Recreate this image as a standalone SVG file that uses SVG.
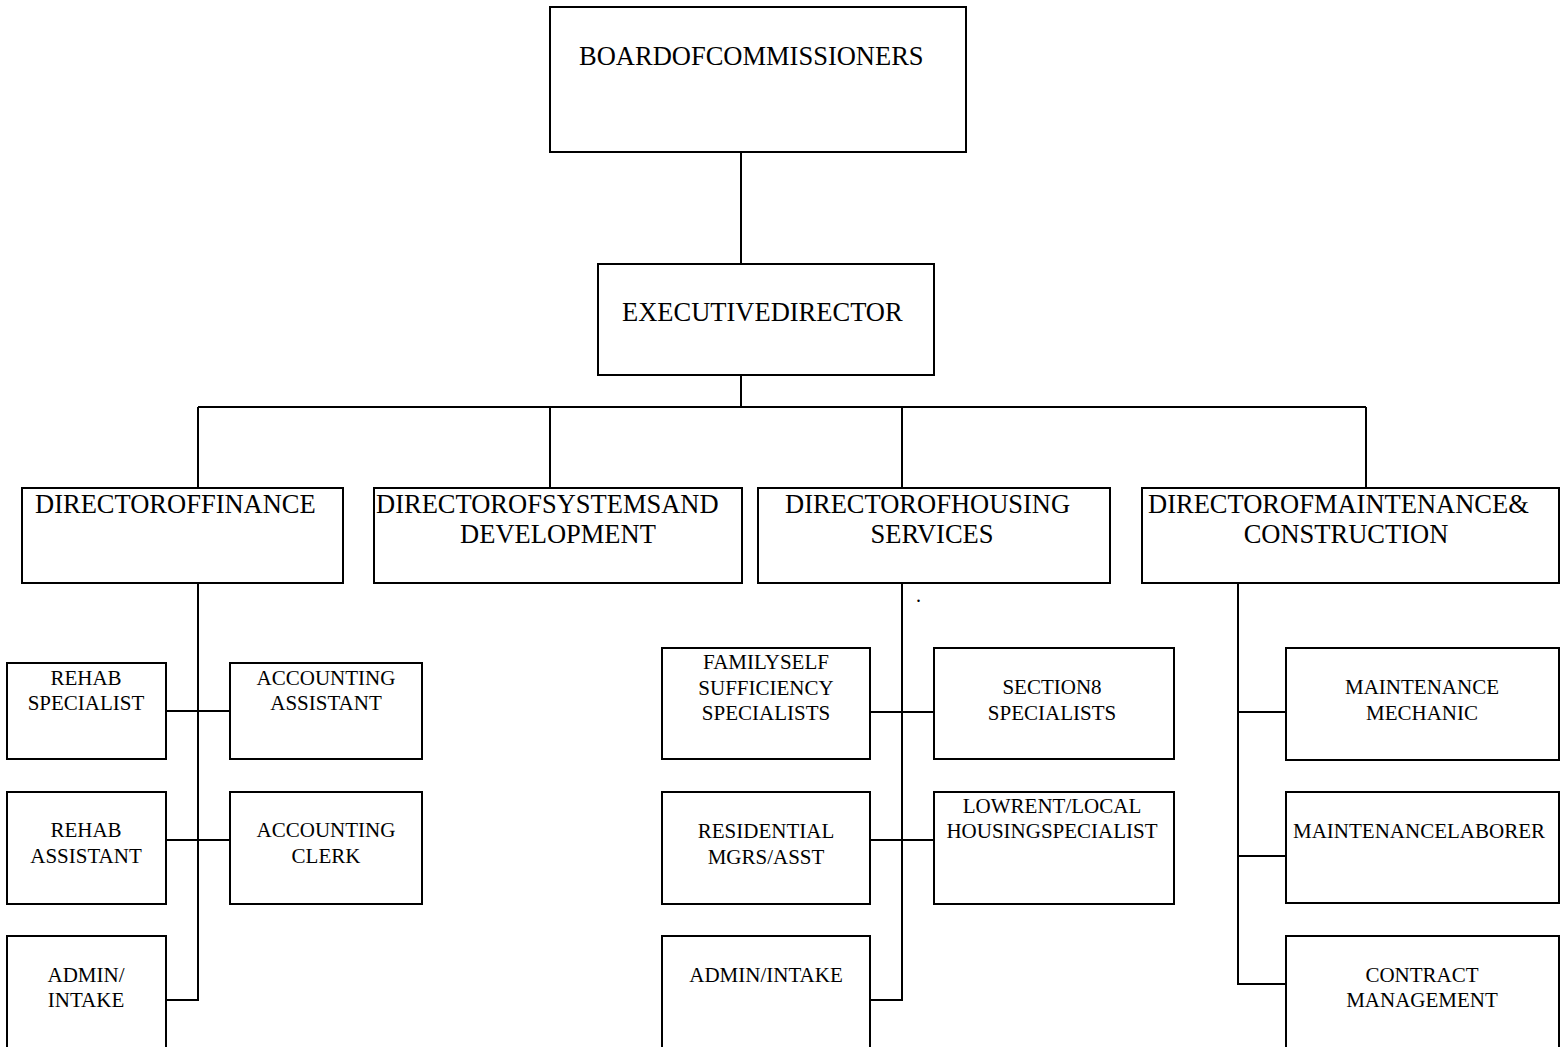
<svg xmlns="http://www.w3.org/2000/svg" width="1567" height="1047" viewBox="0 0 1567 1047">
<style>
rect.box{fill:#fff;stroke:#000;stroke-width:2}
.conn line,.conn path{stroke:#000;stroke-width:2;fill:none}
text{font-family:"Liberation Serif","Times New Roman","DejaVu Serif",serif;fill:#000}
.big{font-size:26.5px}
.sm{font-size:21px;text-anchor:middle}
.mid{text-anchor:middle}
</style>
<rect width="1567" height="1047" fill="#fff"/>
<g class="conn">
<line x1="741" y1="152" x2="741" y2="264"/>
<line x1="741" y1="375" x2="741" y2="407"/>
<line x1="198" y1="407" x2="1366" y2="407"/>
<line x1="198" y1="407" x2="198" y2="488"/>
<line x1="550" y1="407" x2="550" y2="488"/>
<line x1="902" y1="407" x2="902" y2="488"/>
<line x1="1366" y1="407" x2="1366" y2="488"/>
<path d="M198 583 V1000 H166"/>
<line x1="166" y1="711" x2="230" y2="711"/>
<line x1="166" y1="840" x2="230" y2="840"/>
<path d="M902 583 V1000 H870"/>
<line x1="870" y1="712" x2="934" y2="712"/>
<line x1="870" y1="840" x2="934" y2="840"/>
<path d="M1238 583 V984 H1286"/>
<line x1="1238" y1="712" x2="1286" y2="712"/>
<line x1="1238" y1="856" x2="1286" y2="856"/>
</g>
<g id="board"><rect class="box" x="550" y="7" width="416" height="145"/><text class="big" x="579" y="65">BOARDOFCOMMISSIONERS</text></g>
<g id="exec"><rect class="box" x="598" y="264" width="336" height="111"/><text class="big" x="622" y="321">EXECUTIVEDIRECTOR</text></g>
<g id="dir-finance"><rect class="box" x="22" y="488" width="321" height="95"/><text class="big" x="35" y="513">DIRECTOROFFINANCE</text></g>
<g id="dir-systems"><rect class="box" x="374" y="488" width="368" height="95"/><text class="big" x="376" y="513">DIRECTOROFSYSTEMSAND</text><text class="big mid" x="558" y="543">DEVELOPMENT</text></g>
<g id="dir-housing"><rect class="box" x="758" y="488" width="352" height="95"/><text class="big" x="785" y="513">DIRECTOROFHOUSING</text><text class="big mid" x="932" y="543">SERVICES</text></g>
<g id="dir-maint"><rect class="box" x="1142" y="488" width="417" height="95"/><text class="big" x="1148" y="513">DIRECTOROFMAINTENANCE&amp;</text><text class="big mid" x="1346" y="543">CONSTRUCTION</text></g>
<g id="rehab-specialist"><rect class="box" x="7" y="663" width="159" height="96"/><text class="sm" x="86" y="685">REHAB</text><text class="sm" x="86" y="710">SPECIALIST</text></g>
<g id="accounting-assistant"><rect class="box" x="230" y="663" width="192" height="96"/><text class="sm" x="326" y="685">ACCOUNTING</text><text class="sm" x="326" y="710">ASSISTANT</text></g>
<g id="rehab-assistant"><rect class="box" x="7" y="792" width="159" height="112"/><text class="sm" x="86" y="837">REHAB</text><text class="sm" x="86" y="863">ASSISTANT</text></g>
<g id="accounting-clerk"><rect class="box" x="230" y="792" width="192" height="112"/><text class="sm" x="326" y="837">ACCOUNTING</text><text class="sm" x="326" y="863">CLERK</text></g>
<g id="finance-admin"><rect class="box" x="7" y="936" width="159" height="130"/><text class="sm" x="86" y="982">ADMIN/</text><text class="sm" x="86" y="1007">INTAKE</text></g>
<g id="fss"><rect class="box" x="662" y="648" width="208" height="111"/><text class="sm" x="766" y="669">FAMILYSELF</text><text class="sm" x="766" y="694.5">SUFFICIENCY</text><text class="sm" x="766" y="720">SPECIALISTS</text></g>
<g id="section8"><rect class="box" x="934" y="648" width="240" height="111"/><text class="sm" x="1052" y="694">SECTION8</text><text class="sm" x="1052" y="720">SPECIALISTS</text></g>
<g id="residential"><rect class="box" x="662" y="792" width="208" height="112"/><text class="sm" x="766" y="838">RESIDENTIAL</text><text class="sm" x="766" y="864">MGRS/ASST</text></g>
<g id="lowrent"><rect class="box" x="934" y="792" width="240" height="112"/><text class="sm" x="1052" y="813">LOWRENT/LOCAL</text><text class="sm" x="1052" y="838">HOUSINGSPECIALIST</text></g>
<g id="housing-admin"><rect class="box" x="662" y="936" width="208" height="130"/><text class="sm" x="766" y="982">ADMIN/INTAKE</text></g>
<g id="mechanic"><rect class="box" x="1286" y="648" width="273" height="112"/><text class="sm" x="1422" y="694">MAINTENANCE</text><text class="sm" x="1422" y="720">MECHANIC</text></g>
<g id="laborer"><rect class="box" x="1286" y="792" width="273" height="111"/><text class="sm" x="1419" y="838">MAINTENANCELABORER</text></g>
<g id="contract"><rect class="box" x="1286" y="936" width="273" height="130"/><text class="sm" x="1422" y="982">CONTRACT</text><text class="sm" x="1422" y="1007">MANAGEMENT</text></g>
<text x="916" y="602" style="font-size:20px">.</text>
</svg>
